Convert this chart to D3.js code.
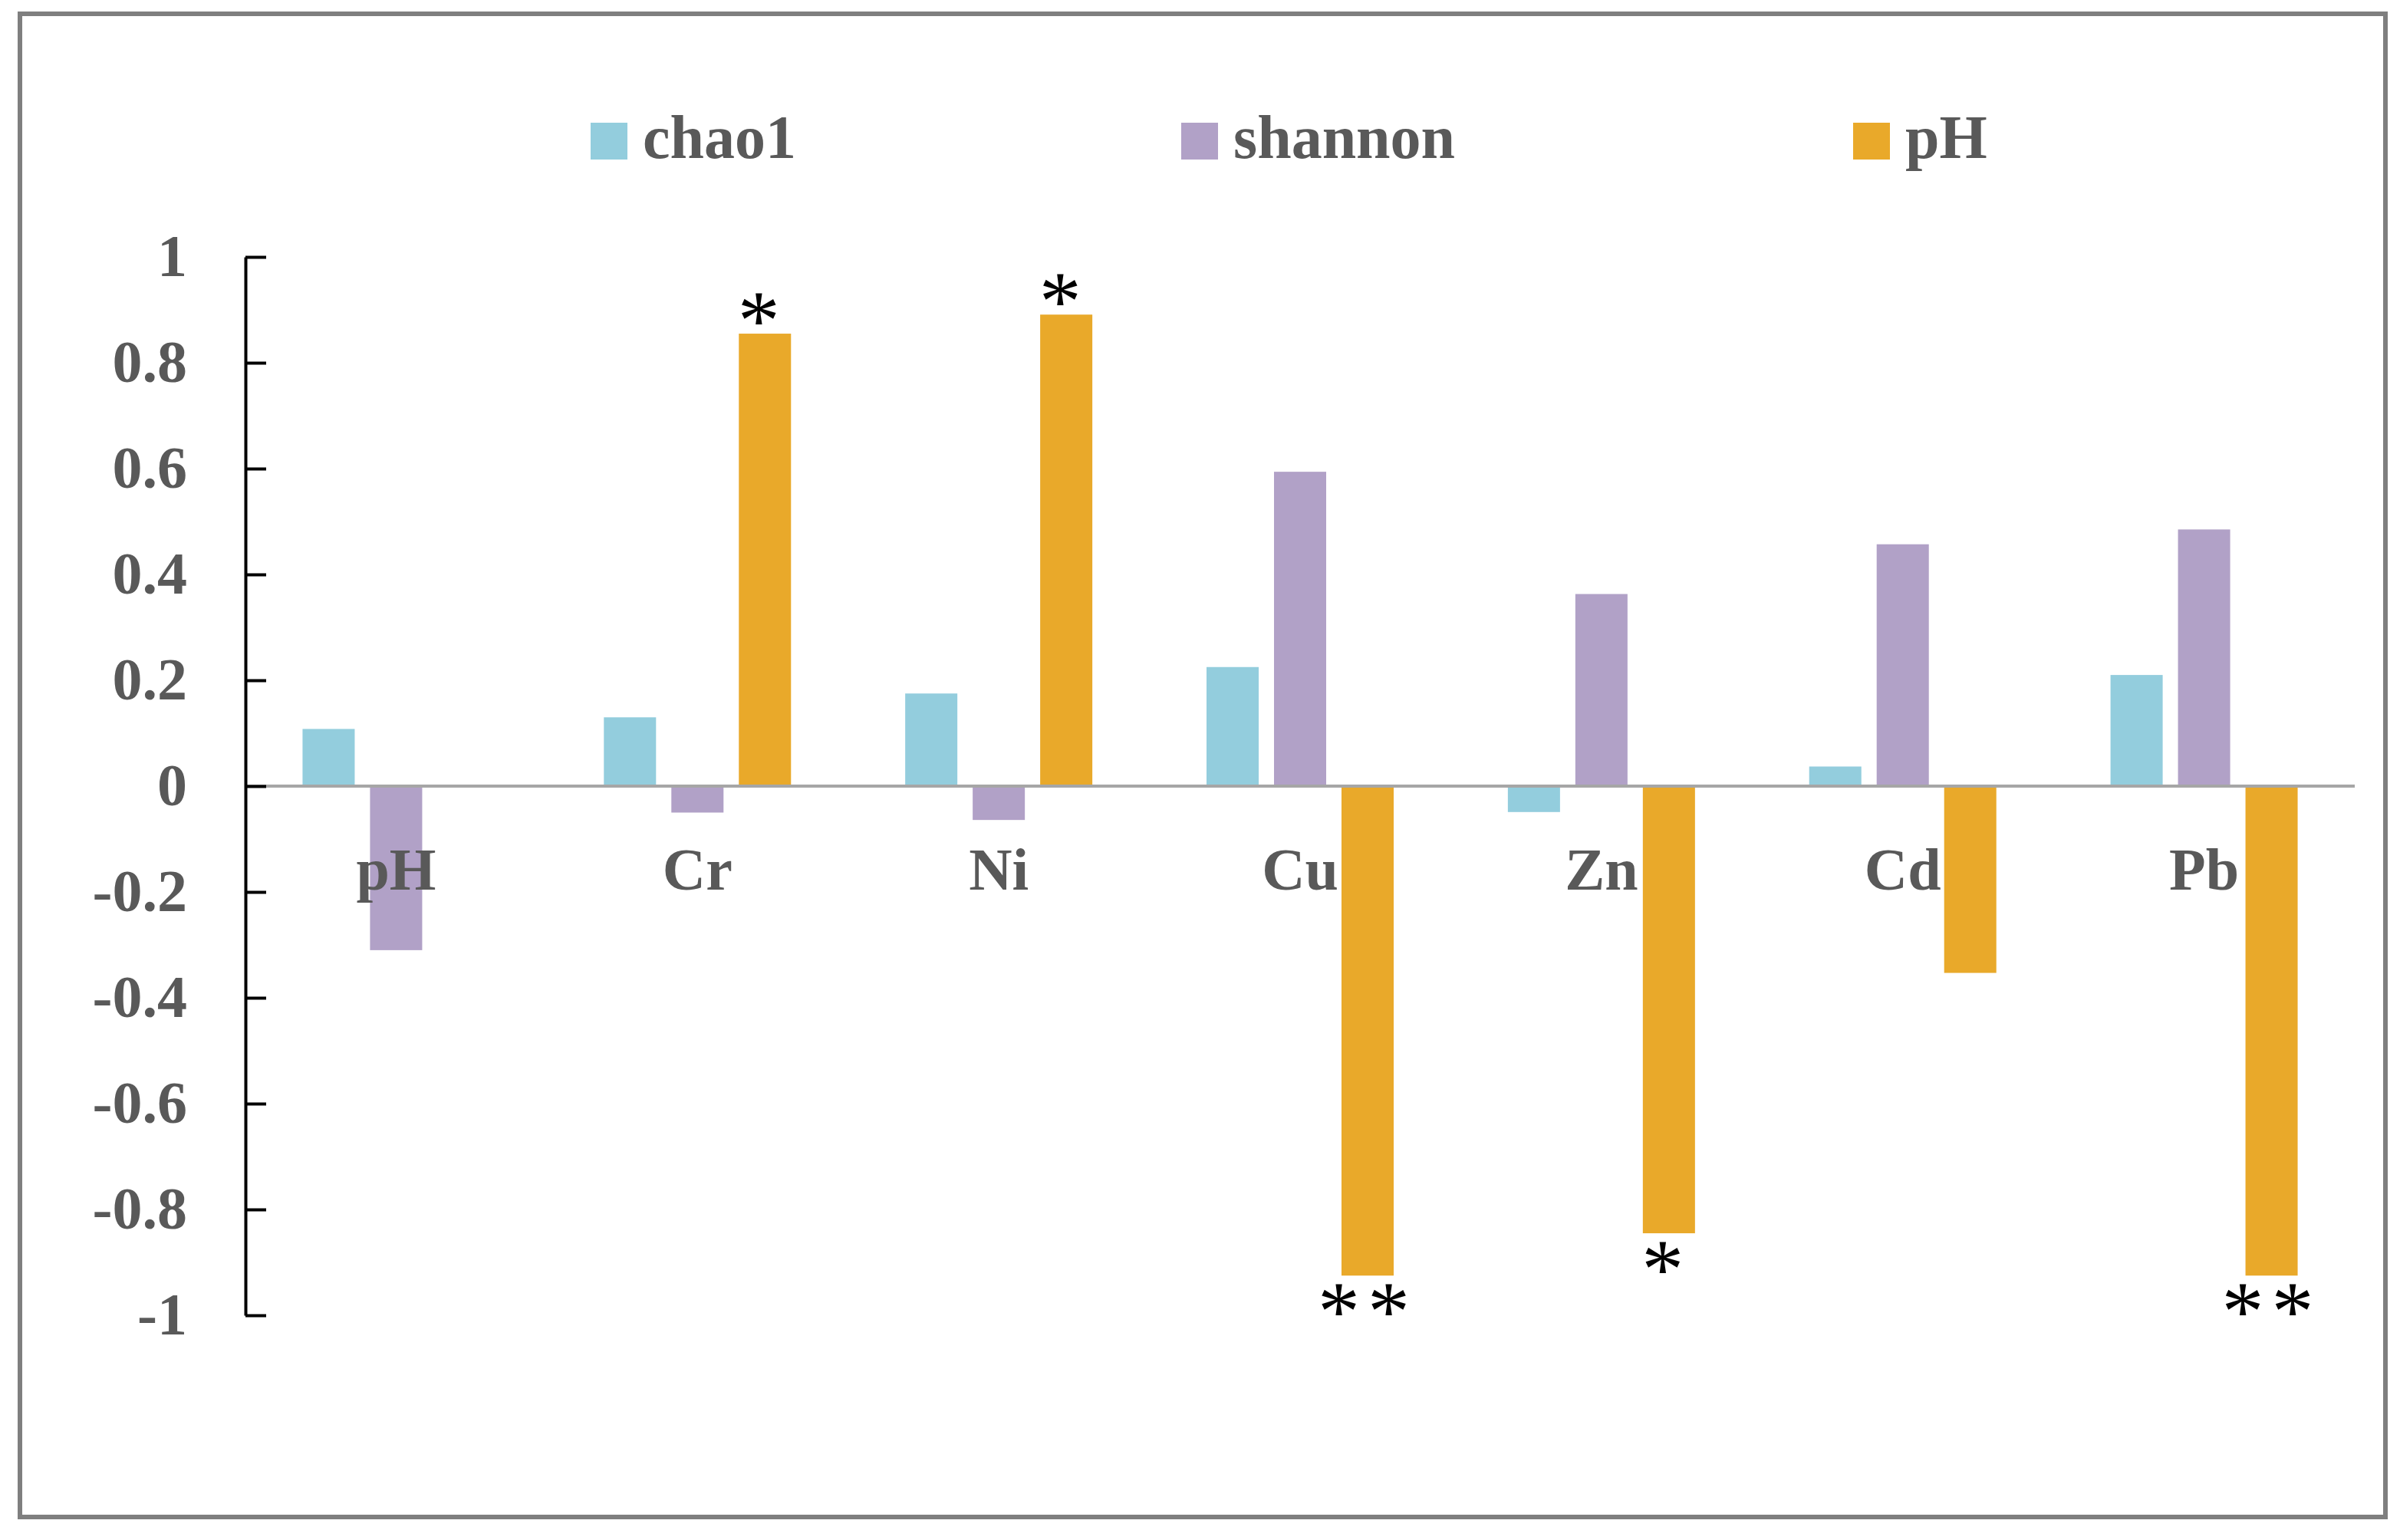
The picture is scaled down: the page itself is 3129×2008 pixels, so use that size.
<!DOCTYPE html>
<html>
<head>
<meta charset="utf-8">
<script src="https://cdn.jsdelivr.net/npm/d3@7"></script>
<style>
  html, body { margin: 0; padding: 0; background: #ffffff; }
  svg { display: block; }
</style>
</head>
<body>
<svg id="chart" width="3129" height="2008"></svg>
<script>
// ---- data ----
const categories = ["pH", "Cr", "Ni", "Cu", "Zn", "Cd", "Pb"];
const seriesNames = ["chao1", "shannon", "pH"];
const chao1Values   = [0.108, 0.130, 0.175, 0.225, -0.049, 0.037, 0.210];
const shannonValues = [-0.310, -0.050, -0.064, 0.594, 0.363, 0.457, 0.485];
const pHValues      = [null, 0.855, 0.891, -0.925, -0.845, -0.353, -0.925];
const pHSignificance = ["", "*", "*", "**", "*", "", "**"];
const yTickValues = [-1, -0.8, -0.6, -0.4, -0.2, 0, 0.2, 0.4, 0.6, 0.8, 1];
const yTickLabels = ["-1", "-0.8", "-0.6", "-0.4", "-0.2", "0", "0.2", "0.4", "0.6", "0.8", "1"];

// ---- styles / layout ----
const colors = { chao1: "#93CDDD", shannon: "#B1A1C7", pH: "#E9A92A" };
const textGray = "#595959";
const fontFamily = "'Liberation Serif', 'Times New Roman', serif";

const svg = d3.select("#chart");
const W = 3129, H = 2008;

svg.append("rect").attr("x", 0).attr("y", 0).attr("width", W).attr("height", H).attr("fill", "#fff");
// outer frame
svg.append("rect")
  .attr("x", 26).attr("y", 18).attr("width", 3084).attr("height", 1960)
  .attr("fill", "none").attr("stroke", "#7f7f7f").attr("stroke-width", 6);

const plotLeft = 320, plotRight = 3070;
const y = d3.scaleLinear().domain([-1, 1]).range([1715, 335]);
const x0 = d3.scaleBand().domain(categories).range([plotLeft, plotRight]).paddingInner(0).paddingOuter(0);
const x1 = d3.scaleBand().domain(seriesNames).range([0, x0.bandwidth()]).paddingInner(0.227).paddingOuter(0.846);

const seriesData = {
  chao1: chao1Values,
  shannon: shannonValues,
  pH: pHValues
};

function drawSeries(name) {
  const g = svg.append("g").attr("class", "series-" + name);
  g.selectAll("rect")
    .data(categories.map((c, i) => ({ c, v: seriesData[name][i] })).filter(d => d.v !== null))
    .join("rect")
    .attr("x", d => x0(d.c) + x1(name))
    .attr("width", x1.bandwidth())
    .attr("y", d => Math.min(y(d.v), y(0)))
    .attr("height", d => Math.abs(y(d.v) - y(0)))
    .attr("fill", colors[name]);
}

drawSeries("chao1");
drawSeries("shannon");

// category labels
svg.append("g").selectAll("text")
  .data(categories)
  .join("text")
  .attr("x", d => x0(d) + x0.bandwidth() / 2)
  .attr("y", 1160)
  .attr("text-anchor", "middle")
  .attr("font-family", fontFamily)
  .attr("font-weight", "bold")
  .attr("font-size", 78)
  .attr("fill", textGray)
  .text(d => d);

drawSeries("pH");

// zero line
svg.append("line")
  .attr("x1", plotLeft).attr("x2", plotRight)
  .attr("y1", y(0)).attr("y2", y(0))
  .attr("stroke", "#A6A6A6").attr("stroke-width", 4);

// y axis
const yAxis = d3.axisLeft(y)
  .tickValues(yTickValues)
  .tickFormat((d, i) => yTickLabels[i])
  .tickSizeInner(-27)
  .tickSizeOuter(0)
  .tickPadding(76);
const gy = svg.append("g").attr("transform", `translate(${plotLeft},0)`).call(yAxis);
gy.select(".domain").attr("stroke", "#000").attr("stroke-width", 4);
gy.selectAll(".tick line").attr("stroke", "#000").attr("stroke-width", 4);
gy.selectAll(".tick text")
  .attr("font-family", fontFamily)
  .attr("font-weight", "bold")
  .attr("font-size", 78)
  .attr("fill", textGray)
  .attr("dy", "0.32em");

// significance asterisks for pH series
svg.append("g").selectAll("text")
  .data(categories.map((c, i) => ({ c, v: pHValues[i], s: pHSignificance[i] })).filter(d => d.s))
  .join("text")
  .attr("x", d => x0(d.c) + x1("pH") + x1.bandwidth() / 2 - (d.s.length > 1 ? 0 : 8))
  .attr("y", d => d.v >= 0 ? y(d.v) + 20 : y(d.v) + 84)
  .attr("text-anchor", "middle")
  .attr("font-family", fontFamily)
  .attr("font-size", 110)
  .attr("letter-spacing", d => d.s.length > 1 ? 10 : 0)
  .attr("fill", "#000")
  .text(d => d.s);

// legend
const legendX = [770, 1540, 2416];
const lg = svg.append("g").selectAll("g")
  .data(seriesNames)
  .join("g")
  .attr("transform", (d, i) => `translate(${legendX[i]},0)`);
lg.append("rect")
  .attr("x", 0).attr("y", 160).attr("width", 48).attr("height", 48)
  .attr("fill", d => colors[d]);
lg.append("text")
  .attr("x", 68).attr("y", 206)
  .attr("font-family", fontFamily)
  .attr("font-weight", "bold")
  .attr("font-size", 80)
  .attr("fill", textGray)
  .text(d => d);
</script>
</body>
</html>
